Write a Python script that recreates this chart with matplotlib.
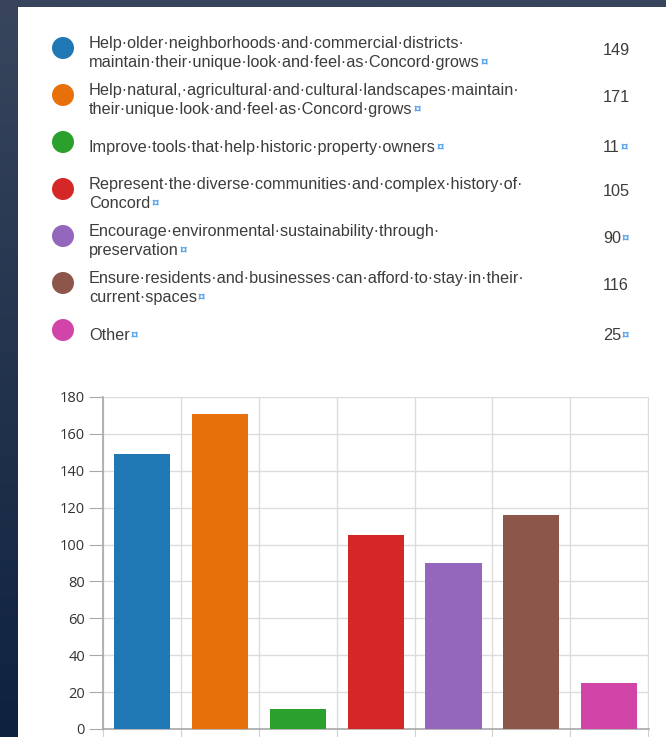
import matplotlib
matplotlib.use('Agg')
import matplotlib.pyplot as plt
import numpy as np
from matplotlib.patches import Rectangle, Circle

plt.rcParams['font.family'] = ['Liberation Sans', 'DejaVu Sans']

# survey answers, as shown in the legend table
labels = [
    ['Help older neighborhoods and commercial districts',
     'maintain their unique look and feel as Concord grows'],
    ['Help natural, agricultural and cultural landscapes maintain',
     'their unique look and feel as Concord grows'],
    ['Improve tools that help historic property owners'],
    ['Represent the diverse communities and complex history of',
     'Concord'],
    ['Encourage environmental sustainability through',
     'preservation'],
    ['Ensure residents and businesses can afford to stay in their',
     'current spaces'],
    ['Other'],
]
counts = [149, 171, 11, 105, 90, 116, 25]
count_marks = [False, False, True, False, True, False, True]
colors = ['#1f77b4', '#e8700a', '#2ca02c', '#d62728', '#9467bd', '#8c564b', '#d145a8']

W, H = 666, 737
fig = plt.figure(figsize=(W / 100, H / 100), dpi=100)

# dark gradient background + white page
bg = fig.add_axes([0, 0, 1, 1])
grad = np.linspace(0, 1, 256).reshape(-1, 1)
top = np.array([0x38, 0x45, 0x5d]) / 255
bot = np.array([0x0e, 0x22, 0x3e]) / 255
img = top[None, None, :] * (1 - grad[:, :, None]) + bot[None, None, :] * grad[:, :, None]
bg.imshow(img, aspect='auto', extent=[0, W, H, 0])
bg.set_xlim(0, W)
bg.set_ylim(H, 0)
bg.add_patch(Rectangle((18, 7), W - 18, H - 7, facecolor='white', edgecolor='none'))
bg.axis('off')

# legend table, in pixel coordinates
txt_color = '#3c3c3c'
mark_color = '#5aa5ea'
fs = 11.7
line_h = 19
fig.canvas.draw()
renderer = fig.canvas.get_renderer()
inv = bg.transData.inverted()

for i, lines in enumerate(labels):
    yc = 48 + 47 * i
    bg.add_patch(Circle((63, yc), 11, facecolor=colors[i], edgecolor='none'))
    n = len(lines)
    y0 = yc - (n - 1) * line_h / 2 + (5 if n > 1 else 5)
    for j, line in enumerate(lines):
        s = line.replace(' ', '\u00b7')
        if j < n - 1:
            s += '\u00b7'
        t = bg.text(89, y0 + j * line_h, s, fontsize=fs, color=txt_color,
                    va='center', ha='left')
    bb = t.get_window_extent(renderer=renderer)
    xr = inv.transform((bb.x1, bb.y0))[0]
    bg.text(xr + 1, y0 + (n - 1) * line_h + 1, '\u00a4', fontsize=9.5, color=mark_color,
            va='center', ha='left', fontweight='bold')

    vy = yc + 2 if n > 1 else yc + 5
    v = bg.text(603, vy, str(counts[i]), fontsize=fs,
                color=txt_color, va='center', ha='left')
    if count_marks[i]:
        vb = v.get_window_extent(renderer=renderer)
        vx = inv.transform((vb.x1, vb.y0))[0]
        bg.text(vx + 1, vy + 1, '\u00a4', fontsize=9.5, color=mark_color,
                va='center', ha='left', fontweight='bold')

# bar chart
x0, x1 = 103, 649
yb, yt = 729, 397
ax = fig.add_axes([x0 / W, (H - yb) / H, (x1 - x0) / W, (yb - yt) / H])
xs = np.arange(len(counts))
ax.bar(xs, counts, width=0.72, color=colors, zorder=3)
ax.set_xlim(-0.5, len(counts) - 0.5 + 0.01)
ax.set_ylim(0, 180)
ax.set_yticks(np.arange(0, 181, 20))
ax.set_xticks(np.arange(-0.5, len(counts), 1.0))
ax.set_xticklabels([])
ax.grid(True, color='#dcdcdc', linewidth=1, zorder=0)
for s in ['top', 'right']:
    ax.spines[s].set_visible(False)
for s in ['left', 'bottom']:
    ax.spines[s].set_color('#a8a8a8')
    ax.spines[s].set_linewidth(1.2)
ax.tick_params(axis='y', length=10, color='#a8a8a8', labelsize=10.5,
               labelcolor='#333333', pad=3)
ax.tick_params(axis='x', length=10, color='#d0d0d0')
for lab in ax.get_yticklabels():
    lab.set_family(['Open Sans', 'DejaVu Sans'])
ax.set_facecolor('none')

fig.savefig('out.png', dpi=100)
